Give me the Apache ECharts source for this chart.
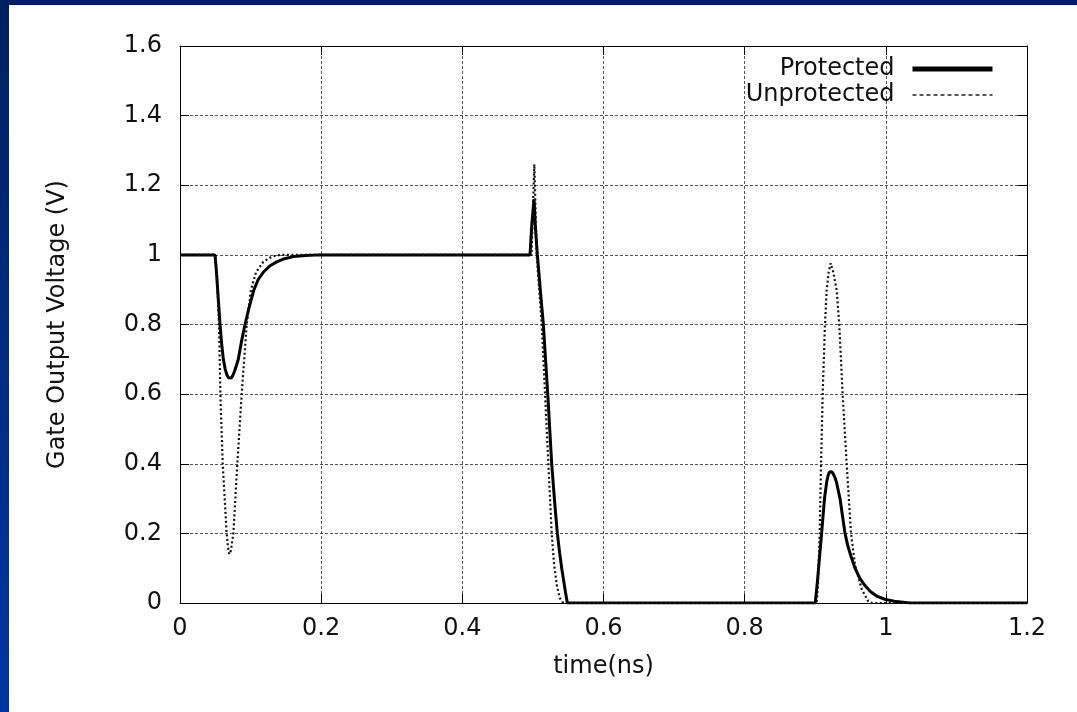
<!DOCTYPE html>
<html>
<head>
<meta charset="utf-8">
<script src="https://cdn.jsdelivr.net/npm/echarts@6/dist/echarts.min.js"></script>
<style>
  html, body { margin: 0; padding: 0; background: #fff; }
  #chart { position: absolute; left: 0; top: 0; width: 1077px; height: 712px; }
  #frameTop { position: absolute; left: 0; top: 0; width: 1077px; height: 5px; background: #00215f; z-index: 10; }
  #frameLeft { position: absolute; left: 0; top: 0; width: 9px; height: 712px; background: linear-gradient(#00215f, #0036a3); z-index: 10; }
</style>
</head>
<body>
<div id="chart"></div>
<div id="frameTop"></div>
<div id="frameLeft"></div>
<script>
// ---- data ----
const seriesNames = ['Protected', 'Unprotected'];

const protectedTime = [0, 0.0496, 0.0517, 0.054, 0.0567, 0.059, 0.0614, 0.064, 0.0665, 0.0688, 0.0708, 0.0728, 0.075, 0.0775, 0.080, 0.0826, 0.087, 0.0921, 0.098, 0.1048, 0.111, 0.118, 0.127, 0.137, 0.148, 0.1606, 0.178, 0.198,
  0.4959, 0.4985, 0.5016, 0.5035, 0.5063, 0.510, 0.5148, 0.521, 0.5266, 0.531, 0.5346, 0.5378, 0.5408, 0.5435, 0.5462, 0.5488,
  0.900, 0.903, 0.906, 0.909, 0.9131, 0.9164, 0.9185, 0.9202, 0.9218, 0.9235, 0.9255, 0.9278, 0.9301, 0.9351, 0.9386, 0.9422, 0.946, 0.9505, 0.9563, 0.9634, 0.9705, 0.978, 0.987, 0.9995, 1.015, 1.034, 1.2];
const protectedVolt = [1.0, 1.0, 0.95, 0.88, 0.80, 0.745, 0.70, 0.672, 0.655, 0.647, 0.644, 0.646, 0.654, 0.667, 0.683, 0.70, 0.75, 0.80, 0.85, 0.90, 0.93, 0.95, 0.968, 0.98, 0.989, 0.995, 0.998, 1.0,
  1.0, 1.09, 1.16, 1.08, 1.0, 0.91, 0.80, 0.60, 0.40, 0.285, 0.20, 0.145, 0.10, 0.065, 0.03, 0.0,
  0.0, 0.06, 0.13, 0.20, 0.30, 0.35, 0.368, 0.376, 0.379, 0.377, 0.371, 0.361, 0.347, 0.30, 0.25, 0.20, 0.165, 0.135, 0.10, 0.07, 0.05, 0.033, 0.02, 0.01, 0.004, 0.0, 0.0];

const unprotectedTime = [0, 0.050, 0.0525, 0.0553, 0.0572, 0.0605, 0.0661, 0.068, 0.0699, 0.072, 0.0756, 0.0812, 0.0874, 0.0945, 0.1006, 0.1077, 0.118, 0.13, 0.142,
  0.498, 0.500, 0.502, 0.5028, 0.5053, 0.5125, 0.5172, 0.5219, 0.5266, 0.530, 0.534, 0.538, 0.543,
  0.902, 0.904, 0.9063, 0.9082, 0.9105, 0.9138, 0.9162, 0.919, 0.9218, 0.9256, 0.9303, 0.934, 0.9388, 0.9445, 0.9507, 0.9563, 0.9658, 0.975, 0.98, 1.2];
const unprotectedVolt = [1.0, 1.0, 0.93, 0.80, 0.60, 0.40, 0.20, 0.16, 0.14, 0.15, 0.20, 0.40, 0.60, 0.80, 0.90, 0.95, 0.98, 0.995, 1.0,
  1.0, 1.13, 1.26, 1.2, 1.0, 0.80, 0.60, 0.40, 0.20, 0.11, 0.05, 0.015, 0.0,
  0.0, 0.06, 0.20, 0.40, 0.60, 0.80, 0.90, 0.95, 0.976, 0.95, 0.90, 0.80, 0.60, 0.40, 0.20, 0.11, 0.04, 0.005, 0.0, 0.0];

const xMin = 0, xMax = 1.2, xStep = 0.2;
const yMin = 0, yMax = 1.6, yStep = 0.2;
const xTitle = 'time(ns)';
const yTitle = 'Gate Output Voltage (V)';

// ---- chart ----
const zip = (a, b) => a.map((t, i) => [t, b[i]]);
const FONT = 'DejaVu Sans';
const txt = { fontFamily: FONT, fontSize: 24, color: '#111' };
const gridLine = { show: true, lineStyle: { color: '#555', width: 1, type: [3, 2] } };
const tick = { show: true, inside: true, length: 9, lineStyle: { color: '#000', width: 1 } };
const axLine = { show: true, onZero: false, lineStyle: { color: '#000', width: 1 } };
const noMarker = { color: 'rgba(0,0,0,0)', borderWidth: 0, opacity: 0 };

const chart = echarts.init(document.getElementById('chart'), null, { renderer: 'canvas' });
chart.setOption({
  backgroundColor: '#fff',
  animation: false,
  grid: { left: 180, top: 46, right: 50, bottom: 109 },
  legend: {
    orient: 'vertical',
    right: 82,
    top: 57,
    padding: 0,
    align: 'right',
    itemWidth: 80,
    itemHeight: 14,
    itemGap: 2,
    textStyle: { fontFamily: FONT, fontSize: 24, color: '#111', lineHeight: 24, padding: [0, 13, 0, 0] },
    data: [
      { name: seriesNames[0], itemStyle: noMarker, lineStyle: { color: '#000', width: 5, type: 'solid', opacity: 1 } },
      { name: seriesNames[1], itemStyle: noMarker, lineStyle: { color: '#222', width: 1.5, type: [4, 3], opacity: 1 } }
    ]
  },
  xAxis: [
    {
      type: 'value', min: xMin, max: xMax, interval: xStep, position: 'bottom',
      name: xTitle, nameLocation: 'middle', nameGap: 52, nameTextStyle: txt,
      axisLine: axLine, axisTick: tick, splitLine: gridLine,
      axisLabel: Object.assign({ margin: 14 }, txt)
    },
    {
      type: 'value', min: xMin, max: xMax, interval: xStep, position: 'top',
      axisLine: axLine, axisTick: tick, splitLine: { show: false }, axisLabel: { show: false }
    }
  ],
  yAxis: [
    {
      type: 'value', min: yMin, max: yMax, interval: yStep, position: 'left',
      name: yTitle, nameLocation: 'middle', nameGap: 110, nameRotate: 90, nameTextStyle: txt,
      axisLine: axLine, axisTick: tick, splitLine: gridLine,
      axisLabel: Object.assign({ margin: 18 }, txt)
    },
    {
      type: 'value', min: yMin, max: yMax, interval: yStep, position: 'right',
      axisLine: axLine, axisTick: tick, splitLine: { show: false }, axisLabel: { show: false }
    }
  ],
  series: [
    {
      name: seriesNames[0], type: 'line', xAxisIndex: 0, yAxisIndex: 0,
      data: zip(protectedTime, protectedVolt),
      showSymbol: false, symbol: 'none', z: 3,
      lineStyle: { color: '#000', width: 3, type: 'solid' },
      itemStyle: { color: '#000' }
    },
    {
      name: seriesNames[1], type: 'line', xAxisIndex: 0, yAxisIndex: 0,
      data: zip(unprotectedTime, unprotectedVolt),
      showSymbol: false, symbol: 'none', z: 4,
      lineStyle: { color: '#111', width: 2.2, type: [2, 2.5] },
      itemStyle: { color: '#111' }
    }
  ]
});
</script>
</body>
</html>
